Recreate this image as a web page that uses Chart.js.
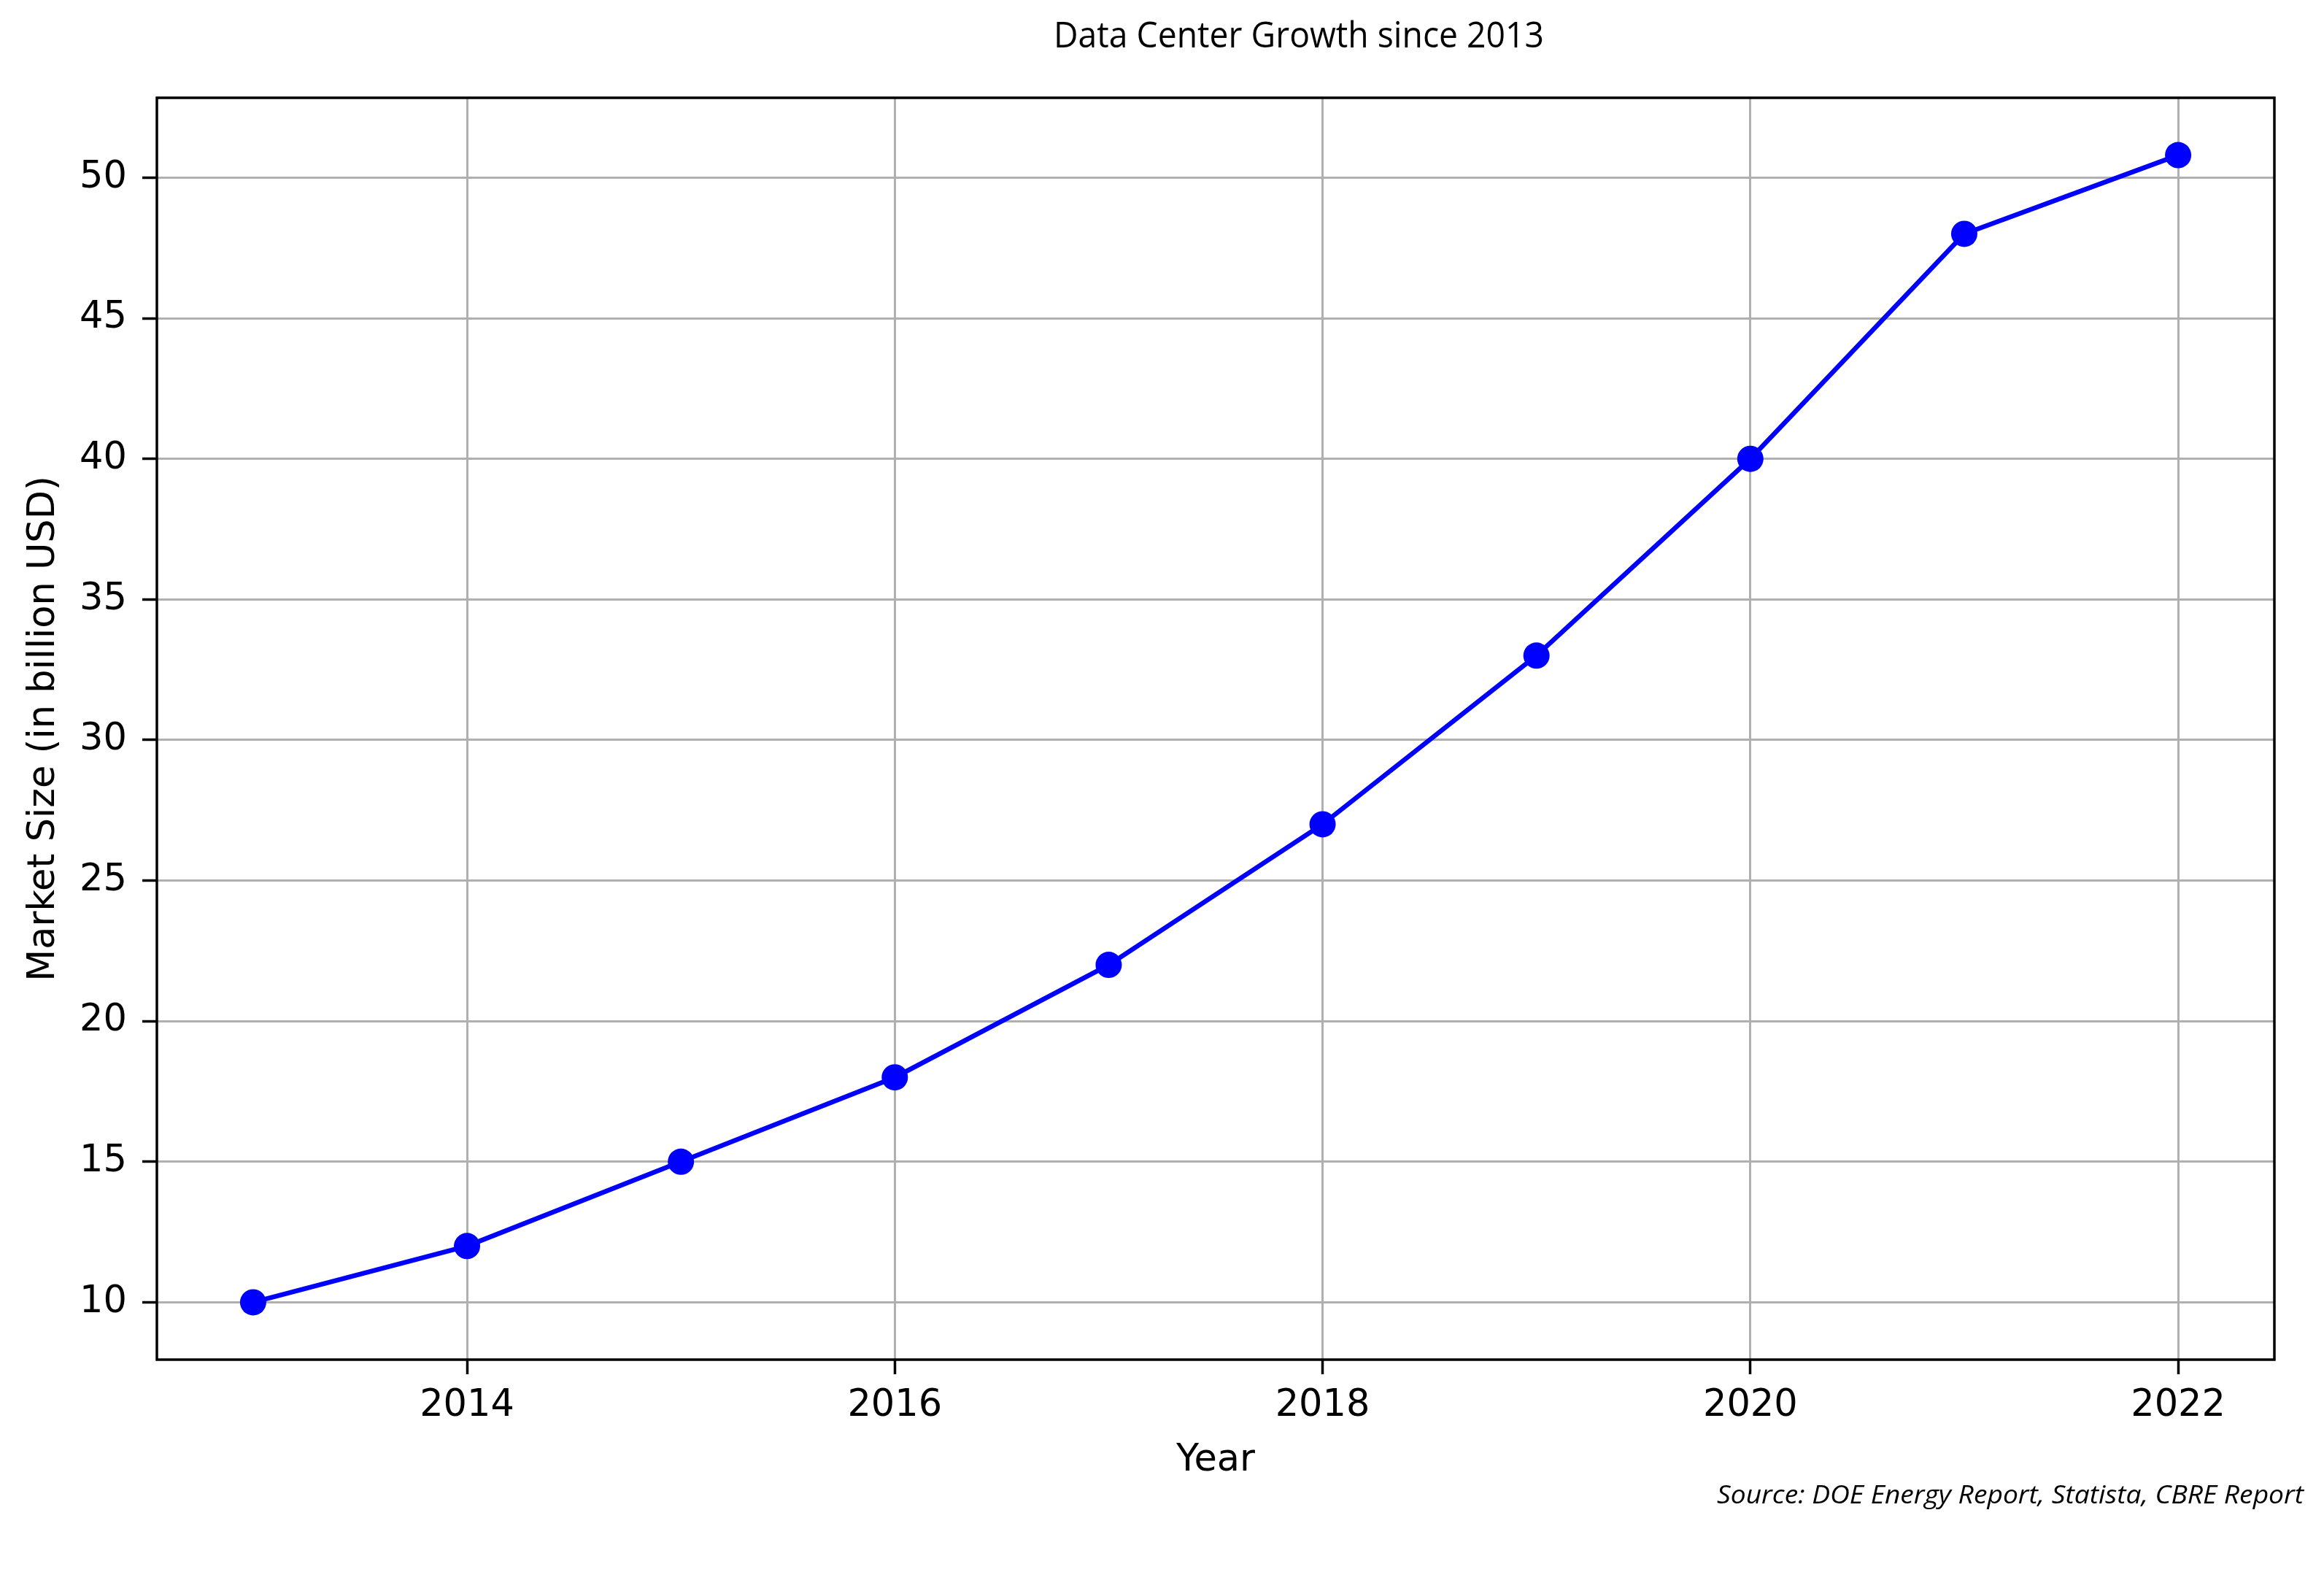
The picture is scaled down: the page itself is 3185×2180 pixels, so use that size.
<!DOCTYPE html>
<html>
<head>
<meta charset="utf-8">
<script src="https://cdn.jsdelivr.net/npm/chart.js@4.4.1/dist/chart.umd.min.js"></script>
<style>
  html, body { margin: 0; padding: 0; background: #fff; }
  #wrap { width: 3185px; height: 2180px; }
</style>
</head>
<body>
<div id="wrap"><canvas id="myChart" width="3185" height="2180"></canvas></div>
<script>
// Chart data
const years = [2013, 2014, 2015, 2016, 2017, 2018, 2019, 2020, 2021, 2022];
const marketSize = [10, 12, 15, 18, 22, 27, 33, 40, 48, 50.8];
const xTicks = [2014, 2016, 2018, 2020, 2022];
const yTicks = [10, 15, 20, 25, 30, 35, 40, 45, 50];

const titleText = 'Data Center Growth since 2013';
const sourceText = 'Source: DOE Energy Report, Statista, CBRE Report';

// matplotlib-like 5% margins around the data
function paddedRange(values) {
    const lo = Math.min(...values), hi = Math.max(...values);
    const pad = (hi - lo) * 0.05;
    return [lo - pad, hi + pad];
}
const [xMin, xMax] = paddedRange(years);
const [yMin, yMax] = paddedRange(marketSize);

const tickFont = { family: 'DejaVu Sans', size: 51 };

// draw text squeezed/stretched to a given width
function fitText(ctx, text, x, y, width, align) {
    const w = ctx.measureText(text).width;
    const sx = width / w;
    ctx.save();
    ctx.translate(x, y);
    ctx.scale(sx, 1);
    ctx.textAlign = align;
    ctx.fillText(text, 0, 0);
    ctx.restore();
}

// frame around the plot area plus figure texts
const figurePlugin = {
    id: 'figurePlugin',
    beforeDraw(chart) {
        const { ctx } = chart;
        ctx.save();
        ctx.fillStyle = '#fff';
        ctx.fillRect(0, 0, chart.width, chart.height);
        ctx.restore();
    },
    afterDatasetsDraw(chart) {
        const { ctx, chartArea } = chart;
        ctx.save();
        ctx.strokeStyle = '#000';
        ctx.lineWidth = 3.5;
        ctx.strokeRect(chartArea.left, chartArea.top,
            chartArea.right - chartArea.left, chartArea.bottom - chartArea.top);
        ctx.restore();
    },
    afterDraw(chart) {
        const { ctx } = chart;
        ctx.save();
        ctx.fillStyle = '#000';
        ctx.textBaseline = 'alphabetic';
        ctx.font = '500 50px "Open Sans"';
        fitText(ctx, titleText, 1780, 65, 672, 'center');
        ctx.font = 'italic 35px "Open Sans"';
        fitText(ctx, sourceText, 3157, 2060, 804, 'right');
        ctx.restore();
    }
};

const ctx = document.getElementById('myChart').getContext('2d');
let myChart = new Chart(ctx, {
    type: 'line',
    data: {
        datasets: [{
            label: 'Market Size',
            data: years.map((y, i) => ({ x: y, y: marketSize[i] })),
            borderColor: '#0000ff',
            backgroundColor: '#0000ff',
            borderWidth: 6.5,
            pointRadius: 18,
            pointBorderWidth: 0,
            pointBackgroundColor: '#0000ff',
            tension: 0,
            fill: false
        }]
    },
    options: {
        responsive: false,
        animation: false,
        devicePixelRatio: 1,
        layout: { padding: { top: 134, right: 68, bottom: 140, left: 0 } },
        plugins: {
            legend: { display: false },
            title: { display: false },
            tooltip: { enabled: false }
        },
        scales: {
            x: {
                type: 'linear',
                min: xMin,
                max: xMax,
                afterFit(scale) { scale.height = 177; },
                afterBuildTicks(scale) { scale.ticks = xTicks.map(v => ({ value: v })); },
                border: { display: false },
                grid: {
                    color: '#b0b0b0',
                    lineWidth: 3,
                    drawTicks: true,
                    tickLength: 20,
                    tickColor: '#000',
                    tickWidth: 3.5
                },
                ticks: {
                    color: '#000',
                    font: tickFont,
                    padding: 13,
                    maxRotation: 0,
                    autoSkip: false,
                    callback: v => String(v)
                },
                title: {
                    display: true,
                    text: 'Year',
                    color: '#000',
                    font: tickFont,
                    padding: { top: 0, bottom: 8 }
                }
            },
            y: {
                type: 'linear',
                min: yMin,
                max: yMax,
                afterFit(scale) { scale.width = 215; },
                afterBuildTicks(scale) { scale.ticks = yTicks.map(v => ({ value: v })); },
                border: { display: false },
                grid: {
                    color: '#b0b0b0',
                    lineWidth: 3,
                    drawTicks: true,
                    tickLength: 20,
                    tickColor: '#000',
                    tickWidth: 3.5
                },
                ticks: {
                    color: '#000',
                    font: tickFont,
                    padding: 21,
                    autoSkip: false,
                    callback: v => String(v)
                },
                title: {
                    display: true,
                    text: 'Market Size (in billion USD)',
                    color: '#000',
                    font: tickFont,
                    padding: { top: 30, bottom: 0 }
                }
            }
        }
    },
    plugins: [figurePlugin]
});
</script>
</body>
</html>
